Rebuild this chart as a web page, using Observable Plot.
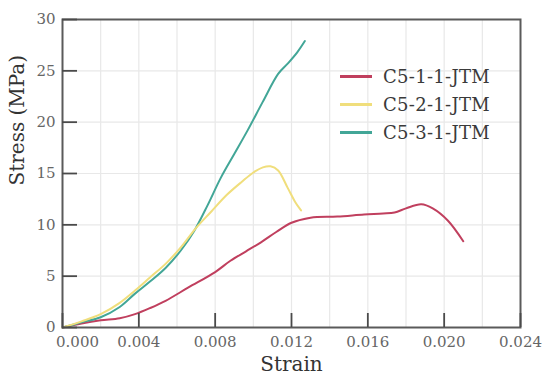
<!DOCTYPE html>
<html><head><meta charset="utf-8">
<script src="https://cdn.jsdelivr.net/npm/d3@7"></script>
<script src="https://cdn.jsdelivr.net/npm/@observablehq/plot@0.6"></script>
<style>
body{margin:0;background:#fff;}
#wrap{position:relative;width:552px;height:385px;}
.leg{position:absolute;left:340px;height:20px;display:flex;align-items:center;font-family:"DejaVu Serif",serif;font-size:18px;color:#3a3a3a;letter-spacing:0.3px;white-space:nowrap;}
.leg span.sw{display:inline-block;width:32px;height:3px;margin-right:11px;}
</style></head><body><div id="wrap"></div>
<script>
const seriesNames = ["C5-1-1-JTM", "C5-2-1-JTM", "C5-3-1-JTM"];
const seriesColors = ["#c03f5e", "#f0de7c", "#42a697"];

const strain1 = [0, 0.001, 0.002, 0.003, 0.0038, 0.0046, 0.0054, 0.0066, 0.008, 0.0088, 0.0096, 0.0104, 0.0112, 0.012, 0.013, 0.0144, 0.0158, 0.0168, 0.0174, 0.018, 0.0188, 0.0194, 0.0202, 0.021];
const stress1 = [0, 0.4, 0.7, 0.9, 1.3, 1.9, 2.6, 3.9, 5.4, 6.5, 7.4, 8.3, 9.3, 10.2, 10.7, 10.8, 11.0, 11.1, 11.2, 11.6, 12.0, 11.6, 10.4, 8.4];

const strain2 = [0, 0.001, 0.002, 0.003, 0.0038, 0.0046, 0.0054, 0.0062, 0.007, 0.0078, 0.0086, 0.0094, 0.01, 0.0105, 0.0109, 0.0113, 0.0118, 0.0122, 0.0125];
const stress2 = [0, 0.6, 1.3, 2.4, 3.6, 4.9, 6.2, 7.8, 9.7, 11.3, 12.9, 14.2, 15.1, 15.6, 15.7, 15.3, 13.6, 12.2, 11.4];

const strain3 = [0, 0.001, 0.002, 0.003, 0.0038, 0.0046, 0.0054, 0.0062, 0.0069, 0.0076, 0.0083, 0.009, 0.0097, 0.0105, 0.0113, 0.0118, 0.0123, 0.0127];
const stress3 = [0, 0.5, 1.0, 2.0, 3.3, 4.5, 5.8, 7.5, 9.4, 11.9, 14.6, 16.9, 19.2, 22.0, 24.7, 25.7, 26.8, 27.9];

const xTicks = [0, 0.004, 0.008, 0.012, 0.016, 0.02, 0.024];
const yTicks = [0, 5, 10, 15, 20, 25, 30];
const xGrid = [0.002, 0.004, 0.006, 0.008, 0.01, 0.012, 0.014, 0.016, 0.018, 0.02, 0.022];
const yGrid = [5, 10, 15, 20, 25];
const xLabel = "Strain";
const yLabel = "Stress (MPa)";

const strains = [strain1, strain2, strain3];
const stresses = [stress1, stress2, stress3];
const rows = [];
seriesNames.forEach((n, i) => strains[i].forEach((s, j) => rows.push({name: n, strain: s, stress: stresses[i][j]})));
const drawOrder = ["C5-1-1-JTM", "C5-3-1-JTM", "C5-2-1-JTM"];

const W = 552, H = 385, mL = 62, mR = 32, mT = 19, mB = 58;
const frameW = W - mL - mR, frameH = H - mT - mB;
const fmt = d3.format(".3f");

const chart = Plot.plot({
  width: W, height: H,
  marginLeft: mL, marginRight: mR, marginTop: mT, marginBottom: mB,
  x: {domain: [0, 0.024]},
  y: {domain: [0, 30]},
  color: {domain: seriesNames, range: seriesColors},
  style: {fontFamily: "'DejaVu Serif', serif", background: "#fff", color: "#555"},
  marks: [
    Plot.gridX(xGrid, {stroke: "#e8e8e8", strokeOpacity: 1, strokeWidth: 1.2}),
    Plot.gridY(yGrid, {stroke: "#e8e8e8", strokeOpacity: 1, strokeWidth: 1.2}),
    ...drawOrder.map(n => Plot.line(rows.filter(r => r.name === n), {x: "strain", y: "stress", stroke: "name", strokeWidth: 2, curve: "catmull-rom"})),
    Plot.frame({stroke: "#5a5a5a", strokeWidth: 2}),
    Plot.ruleX(xTicks, {x: d => d, insetTop: frameH - 14, stroke: "#4a4a4a", strokeWidth: 1.8}),
    Plot.ruleY(yTicks, {y: d => d, insetRight: frameW - 15, stroke: "#4a4a4a", strokeWidth: 1.8}),
    Plot.axisX(xTicks.slice(1), {tickSize: 0, tickPadding: 9, tickFormat: fmt, fontSize: 15, fill: "#666", label: null}),
    Plot.axisX(xTicks.slice(0, 1), {tickSize: 0, tickPadding: 9, tickFormat: fmt, fontSize: 15, fill: "#666", label: null, dx: 15}),
    Plot.axisY(yTicks, {tickSize: 0, tickPadding: 7, fontSize: 15, fill: "#666", label: null}),
    Plot.text([xLabel], {text: d => d, frameAnchor: "bottom", dy: 43, fontSize: 20, fill: "#333"}),
    Plot.text([yLabel], {text: d => d, frameAnchor: "left", dx: -45, dy: 12, rotate: -90, fontSize: 20, fill: "#333"})
  ]
});
const wrap = document.getElementById("wrap");
wrap.appendChild(chart);
const legTops = [66, 94, 122];
seriesNames.forEach((n, i) => {
  const d = document.createElement("div");
  d.className = "leg";
  d.style.top = legTops[i] + "px";
  d.innerHTML = `<span class="sw" style="background:${seriesColors[i]}"></span>${n}`;
  wrap.appendChild(d);
});
</script>
</body></html>
